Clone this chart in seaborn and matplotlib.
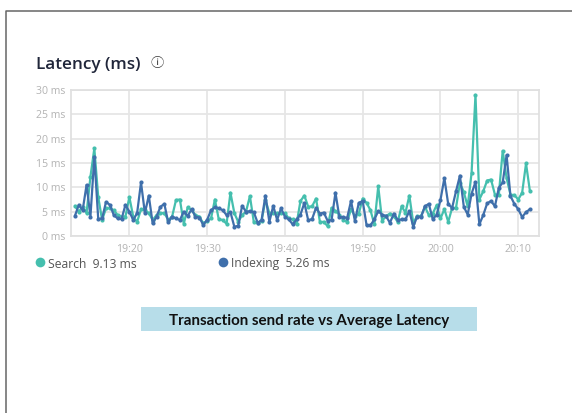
import numpy as np
import pandas as pd
import matplotlib
matplotlib.use("Agg")
import matplotlib.pyplot as plt
import matplotlib.dates as mdates
from matplotlib.lines import Line2D
from matplotlib.patches import Rectangle
import seaborn as sns

# values, one point every 30 s from 19:13
search = [6.2, 5.0, 6.0, 4.7, 12.2, 18.0, 8.0, 3.3, 5.7, 5.7, 5.3, 4.3, 4.0, 4.0, 8.0, 4.0, 2.9, 5.5, 5.3, 4.7,
          3.3, 4.3, 4.7, 4.7, 3.3, 4.0, 7.4, 7.5, 2.5, 5.9, 5.3, 4.3, 4.0, 2.6, 3.1, 3.6, 7.5, 3.4, 3.3, 2.5,
          8.9, 4.7, 2.9, 4.3, 5.0, 8.2, 2.9, 2.7, 3.1, 7.4, 4.7, 4.7, 4.7, 4.7, 4.7,
          3.6, 3.4, 2.5, 7.2, 8.3, 6.0, 6.1, 7.7, 2.9, 2.9, 2.0, 5.8, 5.1, 4.4, 3.3, 2.9, 5.5, 4.1, 4.6, 7.7,
          6.8, 5.3, 2.4, 10.2, 3.1, 4.1, 4.6, 4.1, 2.9, 6.1, 4.8, 8.3, 2.7, 4.1, 4.1, 6.0, 4.3, 4.6, 6.3, 3.6,
          5.5, 2.9, 5.8, 5.8, 10.9, 9.0, 6.1, 13.0, 29.0, 7.5, 9.2, 11.4, 11.6, 8.5, 8.5, 17.5, 11.9, 8.5, 8.4, 7.5,
          8.9, 14.9, 9.2]
indexing = [4.1, 6.4, 5.3, 10.5, 4.0, 16.3, 3.5, 3.6, 7.0, 6.4, 4.3, 3.6, 3.5, 6.4, 5.0, 3.3, 4.7, 11.0, 4.7, 8.3,
            2.6, 4.0, 6.0, 6.6, 2.8, 4.0, 3.6, 3.3, 5.0, 4.1, 5.5, 4.0, 3.8, 2.3, 3.3, 5.3, 5.9, 5.7, 5.3, 4.3,
            4.9, 1.9, 2.1, 6.2, 5.0, 5.1, 4.9, 2.7, 3.3, 8.3, 2.9, 6.2, 3.3, 5.7, 4.0,
            3.4, 2.4, 3.4, 4.4, 6.8, 3.2, 3.5, 5.8, 4.6, 4.8, 3.1, 3.3, 8.9, 3.9, 3.9, 3.7, 7.2, 3.1, 6.8, 7.2,
            2.2, 2.2, 3.4, 5.1, 4.4, 4.1, 2.7, 4.6, 3.3, 3.4, 3.4, 5.1, 1.9, 4.0, 3.9, 6.1, 6.6, 3.5, 4.3, 7.4,
            11.9, 6.5, 5.8, 9.2, 12.4, 6.0, 4.4, 8.7, 11.1, 2.4, 4.3, 6.7, 7.2, 6.1, 9.9, 11.0, 16.6, 8.2, 6.6, 5.5,
            3.9, 4.9, 5.5]
y_ticks = [0, 5, 10, 15, 20, 25, 30]
y_labels = ["0 ms", "5 ms", "10 ms", "15 ms", "20 ms", "25 ms", "30 ms"]

times = pd.date_range("2019-01-01 19:13:00", periods=len(search), freq="30s")
df = pd.DataFrame({
    "time": list(times) * 2,
    "latency": search + indexing,
    "series": ["Search"] * len(search) + ["Indexing"] * len(indexing),
})

teal = "#45bfae"
blue = "#3f6fab"
grey = "#b3b3b3"

sns.set_style("white")
plt.rcParams["font.family"] = ["Open Sans", "DejaVu Sans"]

W, H = 572, 413
fig = plt.figure(figsize=(W / 100, H / 100), dpi=100)
ax = fig.add_axes([71 / W, 1 - 236 / H, (539 - 71) / W, (236 - 90) / H])

sns.lineplot(data=df, x="time", y="latency", hue="series", palette={"Search": teal, "Indexing": blue},
             marker="o", markersize=3, markeredgewidth=0, linewidth=1.6, legend=False, ax=ax)

ax.set_xlim(pd.Timestamp("2019-01-01 19:12:30"), pd.Timestamp("2019-01-01 20:12:40"))
ax.set_ylim(0, 30)
ax.set_yticks(y_ticks)
ax.set_yticklabels(y_labels)
ax.xaxis.set_major_locator(mdates.MinuteLocator(byminute=[0, 10, 20, 30, 40, 50]))
ax.xaxis.set_major_formatter(mdates.DateFormatter("%H:%M"))
ax.set_xlabel("")
ax.set_ylabel("")
ax.grid(True, color="#e6e6e6", linewidth=1.3)
ax.set_axisbelow(True)
ax.tick_params(length=0, labelsize=7.6, labelcolor=grey)
ax.tick_params(axis="y", pad=4)
ax.tick_params(axis="x", pad=5.5)
for s in ax.spines.values():
    s.set_color("#e0e0e0")
    s.set_linewidth(1.3)


def px(x, y):
    return x / W, 1 - y / H


# page frame
fig.add_artist(Line2D([6 / W, 6 / W, 1], [0, 1 - 10.5 / H, 1 - 10.5 / H], color="#666666", linewidth=1.1))

# title and info icon
fig.text(*px(36, 65), "Latency (ms)", fontsize=12.3, color="#20263a", fontweight="semibold", va="center")
fig.text(*px(157, 63.5), "\u24d8", fontsize=9.5, color="#333333", va="center", ha="center",
         family=["Noto Sans CJK JP", "DejaVu Sans"])

# legend row
fig.add_artist(Line2D([40 / W], [1 - 262 / H], marker="o", markersize=7, color=teal, markeredgewidth=0))
fig.text(*px(48, 264), "Search  9.13 ms", fontsize=8.7, color="#555555", va="center")
fig.add_artist(Line2D([223 / W], [1 - 262 / H], marker="o", markersize=7, color=blue, markeredgewidth=0))
fig.text(*px(231, 264), "Indexing  5.26 ms", fontsize=8.7, color="#555555", va="center")

# caption box
fig.add_artist(Rectangle(px(141, 331), 336 / W, 24 / H, transform=fig.transFigure, facecolor="#b7dde9",
                         edgecolor="none"))
fig.text(*px(309, 321), "Transaction send rate vs Average Latency", fontsize=10.9, fontweight="bold",
         family=["Lato", "DejaVu Sans"], color="#111111", ha="center", va="center")

fig.savefig("out.png", dpi=100)
